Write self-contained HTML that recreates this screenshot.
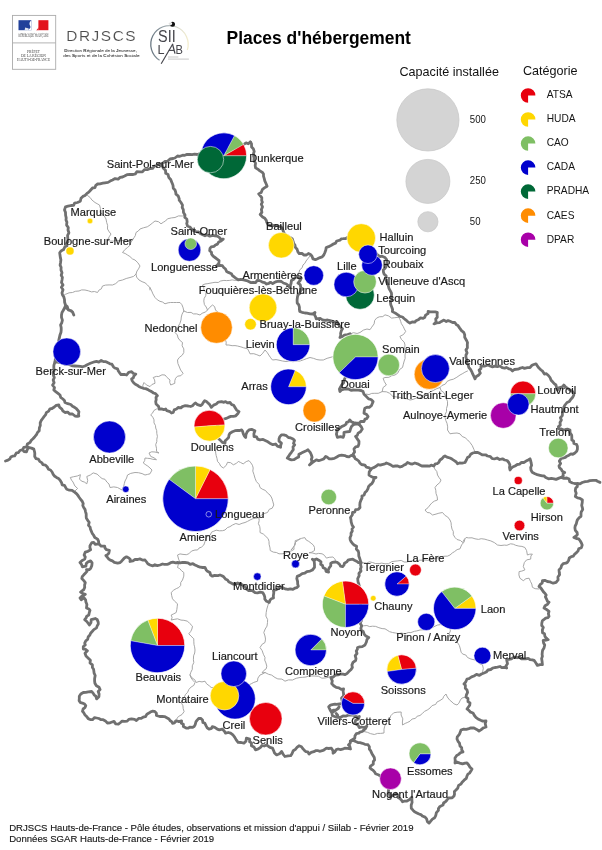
<!DOCTYPE html>
<html><head><meta charset="utf-8"><title>Places d'hébergement</title>
<style>
html,body{margin:0;padding:0;background:#fff;}
body{width:602px;height:850px;overflow:hidden;font-family:"Liberation Sans",sans-serif;}
svg{display:block;font-family:"Liberation Sans",sans-serif;}
</style></head><body>
<svg width="602" height="850" viewBox="0 0 602 850">
<rect width="602" height="850" fill="#fff"/>
<g style="will-change:transform">
<g fill="none" stroke="#a2a2a2" stroke-width=".95" stroke-linejoin="round" stroke-linecap="round">
<polyline points="87.5,195.5 90.0,197.4 92.0,200.1 95.0,202.5 97.1,203.7 99.5,205.0 100.5,208.7 100.0,212.5 102.6,214.1 104.3,216.0 106.0,219.0 106.7,222.6 107.6,225.3 107.5,229.0 109.3,232.0 111.0,234.0 109.2,236.8 107.5,240.0 110.1,241.1 113.5,241.1 116.6,240.1 120.0,241.0 123.4,240.4 126.3,239.9 129.3,240.5 132.5,240.0 131.0,242.1 130.0,245.2 127.5,247.5 124.8,249.7 122.5,252.5 125.2,253.5 127.5,255.0 129.9,256.5 132.4,258.9 135.0,260.0 137.9,262.8 140.0,266.0 138.5,268.9 137.0,271.0 136.0,274.0 136.6,277.1 139.0,280.0 142.1,281.7 145.0,282.8 147.5,285.0 149.6,287.3 150.0,290.0"/>
<polyline points="132.5,240.0 134.1,237.6 135.4,235.4 136.0,232.5 138.3,231.0 140.0,229.0 143.4,227.8 147.3,226.8 150.0,225.0 152.6,222.9 155.0,221.0 158.5,221.7 161.0,223.8 163.7,222.0 165.5,221.0 167.5,218.8 171.4,217.9 175.0,217.5 178.5,215.9 182.5,216.0 185.0,215.0"/>
<polyline points="62.5,296.0 65.3,294.4 69.1,292.8 72.5,292.5 75.3,291.3 79.0,291.0 81.7,289.9 85.0,290.0 88.4,290.8 91.5,291.9 94.4,291.5 97.5,292.5 99.2,289.9 101.3,288.9 102.5,286.0 105.5,285.1 109.1,284.9 112.5,285.0 115.7,283.6 118.7,280.9 122.5,280.0 126.2,278.5 130.0,277.5 133.6,276.4 136.0,274.0"/>
<polyline points="150.0,287.5 151.7,290.9 152.9,293.9 155.0,297.5 157.3,299.8 159.9,301.3 162.5,302.0 165.0,303.8 168.1,302.8 170.5,302.5 173.7,302.5 176.6,302.5 180.0,302.5 181.9,304.7 183.1,307.8 183.8,311.0 187.5,312.5 191.1,312.4 193.4,313.9 196.8,313.9 200.0,315.0 202.1,313.3 205.7,311.9 207.5,310.0 206.2,307.0 204.4,304.6 203.8,301.0 204.2,298.3 205.7,295.8 206.0,292.5 203.9,290.0 203.8,287.8 202.5,285.0 205.0,284.0 207.9,283.6 212.1,282.8 215.0,282.3 218.2,282.5 220.6,281.0 223.9,280.4 226.6,280.6 229.8,280.4 232.1,279.9 235.8,280.5 238.2,279.8"/>
<polyline points="183.8,311.0 182.1,314.1 181.3,317.0 181.0,320.0 179.9,323.4 178.4,326.0 177.4,329.6 175.0,332.5 177.3,334.9 178.1,338.0 180.3,340.8 182.5,342.5 182.1,345.8 183.8,348.9 183.8,352.5 182.3,355.1 179.2,357.6 177.5,360.0 177.9,363.5 179.4,367.0 180.6,370.0 183.1,373.3 180.9,375.7 177.5,376.2 175.6,378.3 174.8,380.7 174.8,383.3 170.7,385.0 169.7,382.3 170.0,380.0 167.1,377.5 165.0,375.0 162.0,374.8 158.7,376.5 156.4,376.4 153.2,377.5 154.6,379.9 155.0,383.3 151.9,384.5 150.0,386.6 146.4,384.9 144.0,382.5 142.8,385.4 143.3,388.3"/>
<polyline points="207.5,310.0 209.8,307.3 212.5,305.0 214.6,306.6 215.6,310.3 218.0,312.0 219.1,315.6 220.2,318.8 220.4,321.7 222.0,325.0 223.1,328.2 224.0,331.9 224.7,335.1 225.0,338.8 226.2,342.1 226.0,345.0 228.9,345.0 232.1,345.7 235.0,345.6 237.5,346.0 240.9,346.9 243.7,347.8 247.5,348.8 248.7,350.9 250.0,353.8 253.8,353.7 256.8,354.7 260.0,356.0 262.8,353.2 265.0,350.0 267.1,352.3 268.8,355.0 270.7,357.8 272.5,360.0 276.0,359.6 279.0,360.2 282.5,361.0 286.0,361.5 289.7,361.1 292.9,361.7 296.5,361.2 300.0,361.0 303.5,359.8 306.7,358.6 310.0,357.5 313.7,358.4 316.9,359.6 320.0,360.0 323.3,360.0 327.1,358.3 330.0,357.5 332.5,356.8 334.6,354.2 336.9,352.8 340.0,352.0"/>
<polyline points="350.0,334.0 353.4,332.7 357.1,333.5 360.0,332.5 363.4,330.1 367.0,329.0 370.0,329.7 371.7,327.2 374.1,323.9 374.7,320.4 376.6,318.1 379.3,316.8 382.8,316.6 385.0,314.8 388.5,315.9 391.6,318.1 394.8,317.7 398.2,317.3"/>
<polyline points="398.2,317.3 399.8,318.9 400.7,321.4 401.4,323.7 403.2,326.4 404.3,328.9 405.7,331.4 403.5,334.5 399.9,336.4 401.4,339.4 404.2,342.1 405.0,345.0 404.5,348.8 405.7,351.5 405.0,355.0 405.1,358.5 404.2,361.0 403.2,364.8 402.5,367.5 399.7,369.4 397.7,373.2 395.0,375.0 391.5,375.8 388.9,377.3 385.0,377.5 383.1,378.3 384.4,381.7 386.4,385.0 383.1,387.5 382.2,391.6 378.3,393.3 374.8,393.3 371.7,393.4 369.0,394.6 366.4,394.1"/>
<polyline points="382.2,391.6 386.4,391.8 389.7,393.3 393.0,396.6 396.4,396.9 400.0,397.5 403.7,398.5 406.4,398.7 410.0,400.0 413.1,399.4 416.2,398.0 420.0,398.0 421.9,395.9 424.7,394.8 427.6,394.0 430.0,392.0 433.1,390.6 436.2,388.9 440.0,387.5 441.9,385.5 445.3,384.1 447.1,381.4 450.0,380.0 453.4,379.2 456.9,377.2 460.0,375.0 462.8,373.5 464.9,372.2 467.5,371.0"/>
<polyline points="447.5,405.0 446.5,408.5 446.5,411.6 445.2,414.4 445.0,417.5 445.8,420.5 447.0,423.3 447.7,426.9 447.5,430.0 450.0,433.8 453.0,433.3 457.0,433.0 460.0,433.8 462.2,436.5 465.1,437.7 467.7,440.0 470.0,442.5 472.2,445.5 473.9,449.3 475.0,452.5"/>
<polyline points="440.0,387.5 441.0,390.5 443.9,392.6 445.0,395.0 446.1,398.1 447.5,401.3 447.5,405.0"/>
<polyline points="310.0,256.0 308.0,258.5 306.0,261.0 304.9,263.3 303.0,264.9 302.2,267.7 299.7,269.9 298.8,273.4 296.4,276.5"/>
<polyline points="75.0,491.0 77.6,488.4 74.9,486.0 73.0,482.0 71.5,480.1 70.3,477.5 73.7,476.7 77.3,476.0 80.4,474.7 79.5,479.3 82.0,481.3 84.3,482.0 86.8,483.8 87.7,480.5 86.8,476.5 90.3,475.0 93.2,472.9 97.1,474.1 99.6,476.5 102.1,478.6 105.0,479.3 106.9,482.1 109.0,484.0 110.0,487.5 113.8,486.9 117.5,487.5 120.0,488.9 122.0,490.0 123.6,486.9 124.3,483.7 125.0,481.0 126.6,478.0 127.5,475.0 130.7,473.4 135.0,472.5 138.4,472.7 142.1,473.6 145.0,475.0 147.6,474.4 150.0,473.8 152.0,470.0 150.0,468.0 147.8,466.1 145.9,464.9 143.3,463.0 144.7,460.5 145.0,458.0 147.5,458.3 150.0,458.5 152.8,459.3 156.5,459.7 154.0,457.8 150.7,456.4 149.0,453.0 151.7,451.8 155.0,452.0 159.0,453.0 156.5,451.4 156.5,448.3 155.7,444.7 156.8,441.6 156.8,439.3 157.4,436.4 156.8,433.4 156.7,430.6 155.7,428.0 155.5,425.6 154.0,422.9 154.0,419.8 152.8,417.2 150.7,414.8 152.4,413.3 153.9,410.5 156.5,409.0"/>
<polyline points="215.5,450.0 215.7,453.1 216.2,455.6 217.0,458.5 217.5,461.4 219.3,463.3 220.7,466.1 223.3,468.0 226.3,465.3 227.5,462.3 230.7,462.7 233.3,464.8 236.5,463.3 238.3,461.4 240.6,462.5 243.2,463.9 246.2,461.6 249.0,460.6 250.9,462.9 252.4,465.2 253.2,468.0 252.8,471.1 254.0,474.7 255.0,478.2 256.4,481.6 259.1,484.4 260.0,487.5 262.2,489.1 265.5,490.5 267.4,492.9 270.0,495.0 271.8,498.0 272.9,501.8 273.8,505.0 272.2,508.2 269.3,509.3 267.5,512.5 264.0,513.6 261.5,515.1 258.8,517.5 259.2,520.4 258.4,523.7 259.7,526.4 260.1,529.1 260.0,532.5 263.4,534.1 265.9,536.5 268.1,538.6 269.0,541.3 269.1,544.3 270.0,547.9 270.2,550.5 273.3,552.1 276.4,552.5 279.0,553.8 282.1,553.8 284.8,553.2 288.2,552.0 291.3,550.9 294.0,549.4 293.9,546.9 295.5,544.1 295.1,540.8 298.2,539.7 301.7,538.3 304.8,537.6 306.2,540.0 308.8,541.4 311.1,543.2 313.4,545.1 314.5,547.4 314.5,550.5 311.7,552.2 309.1,552.7 312.1,552.9 316.0,554.0 318.5,553.4 322.1,553.8 324.4,555.3 326.4,558.1 329.2,557.3 332.9,557.0 334.7,558.7 336.1,561.3"/>
<polyline points="258.8,517.5 255.5,518.3 252.9,518.7 250.0,520.0 247.5,521.4 245.0,522.5 242.1,523.3 239.1,524.5 235.8,523.5 232.5,525.0 229.9,526.7 227.4,527.6 225.0,530.0 222.5,530.7 219.4,530.8 216.2,530.2 213.8,531.2 211.6,532.1 210.0,535.4 207.5,536.2 205.6,538.9 205.0,541.6 203.8,545.0 201.5,547.1 199.0,548.1 197.5,550.0 195.0,550.0 191.6,551.0 188.8,553.8 186.3,554.7 183.0,554.4 180.0,553.9 177.5,555.0 178.6,559.1 180.0,562.5"/>
<polyline points="300.0,538.8 297.5,540.7 295.0,542.5 294.3,545.6 292.6,548.1 291.0,550.0 293.0,548.0"/>
<polyline points="433.8,466.0 434.7,468.9 436.8,471.5 437.5,475.0 439.2,477.8 441.0,480.0 439.8,482.6 436.9,485.0 435.0,487.5 435.8,490.3 436.0,493.4 437.2,496.8 437.5,500.0 434.4,501.1 432.1,502.7 430.0,505.0 428.0,507.7 425.0,510.0 427.2,512.5 429.8,512.8 432.5,515.0 436.0,514.1 438.9,513.2 442.5,512.5 445.1,515.5 447.6,516.9 450.0,520.0 451.1,522.8 451.3,525.7 452.0,529.1 453.3,531.4 453.3,534.7 455.0,537.5 457.0,539.5 460.5,540.5 462.5,542.5 464.2,539.5 466.0,537.5 468.7,537.9 472.0,537.8 475.0,538.8 478.5,539.4 481.2,538.7 484.9,539.2 487.5,540.0 490.8,540.9 494.4,542.6 497.5,545.0 501.0,545.5 504.3,545.1 506.9,545.3 510.5,543.8 513.3,544.2 515.7,545.3 518.9,546.1 521.9,546.4 524.9,547.5 526.6,550.6 527.4,555.0 529.7,554.2 532.4,554.1 530.9,556.0 530.7,559.1 526.6,559.9 524.3,562.6 523.3,566.6 524.9,569.9 521.8,571.1 519.1,571.6 518.9,574.9 519.9,578.2 523.3,580.7 525.9,578.7 529.1,578.2 530.5,581.5 531.8,584.0 532.4,587.3 535.1,588.7 539.0,589.0"/>
<polyline points="361.2,563.0 364.3,562.7 366.5,563.2 369.3,561.8 372.5,562.5 375.3,563.5 379.1,563.6 381.7,563.1 385.0,563.8 388.6,563.7 391.8,561.6 395.0,561.2 397.8,560.9 401.2,560.4 404.1,562.0 406.6,562.0 410.0,561.2 412.9,560.5 416.5,561.5 418.8,560.3 422.0,560.1 425.0,560.0 427.8,560.3 431.3,559.5 434.3,559.0 437.0,558.0 439.6,557.6 442.1,556.5 445.0,556.2 447.3,556.2 450.0,555.0 452.4,552.9 454.4,551.7 457.1,549.6 460.0,548.8 461.6,544.9 464.1,542.0 465.0,538.8"/>
<polyline points="361.2,626.2 363.7,625.8 366.9,625.5 369.6,626.6 372.5,626.2 375.6,626.4 378.9,627.7 382.1,628.6 385.0,628.8 387.1,630.1 389.6,631.7 392.5,632.5 395.5,633.0 398.4,633.6 401.7,633.1 405.0,634.0 408.2,632.5 410.9,632.6 414.4,631.3 416.8,630.9 420.0,630.0 423.3,629.8 425.9,629.4 429.3,627.6 432.5,627.5 435.0,626.2 437.7,625.0 440.6,624.6 444.2,625.6 447.0,625.0 450.0,623.8 449.3,627.1 450.4,630.9 449.2,633.7 450.0,637.5 452.5,639.4 455.2,640.3 457.5,642.5 459.3,645.4 460.4,649.1 461.2,652.5 463.0,654.2 465.8,655.0 467.5,657.5 470.9,659.0 475.0,660.0 477.5,661.2 479.7,663.8 482.5,665.0 483.3,668.4 482.5,672.5"/>
<polyline points="363.8,731.5 367.4,732.3 370.4,733.6 374.3,734.5 377.6,733.4 380.5,733.4 384.0,733.0 384.0,729.2 384.7,726.2 385.9,723.4 387.4,720.9 390.0,718.3 390.7,715.8 393.7,712.8 397.2,712.2 401.2,712.0 401.1,715.0 402.8,718.8 402.4,722.0 402.5,725.0 405.2,723.4 407.2,722.6 410.0,721.2 412.1,719.0 415.4,718.4 417.2,716.2 420.0,715.5 422.4,713.4 424.5,711.4 427.8,709.7 430.0,708.0 432.1,705.6 435.7,704.4 436.9,702.1 440.0,700.5 442.9,698.6 443.7,696.4 446.0,694.0 447.3,697.0 449.5,699.9 452.0,702.0 453.9,703.8 457.0,705.0 458.9,703.2 460.4,700.0 462.0,698.0 466.0,697.0"/>
<polyline points="180.0,562.5 178.3,564.5 177.5,567.5 179.8,568.7 181.6,570.8 183.8,572.5 183.8,576.1 182.5,580.0 180.7,582.6 180.7,585.4 178.8,587.5 176.3,588.6 173.7,590.1 171.2,592.5 171.7,595.7 172.5,598.8 174.7,601.3 177.5,603.8 177.2,606.8 176.8,609.7 176.2,612.5 173.8,613.8 171.2,615.0 172.1,617.6 171.2,620.0 174.1,619.4 177.5,618.8 181.0,620.1 183.9,620.3 187.5,621.2 189.8,623.5 192.5,626.2 191.9,629.0 190.7,631.5 188.8,633.8 190.9,636.0 193.8,638.8 193.8,641.2 194.0,644.7 194.6,646.8 195.0,650.0 194.7,653.0 193.6,655.8 193.4,659.8 193.8,662.5 192.3,665.8 192.3,669.3 190.8,672.3 190.0,675.0 190.9,677.7 193.1,680.6 195.0,682.5 193.8,685.4 191.1,687.0 188.9,689.4 187.5,692.5 185.5,694.4 184.0,697.8 182.5,700.0 181.6,703.3 182.9,705.7 183.2,708.7 184.1,711.6 182.0,714.5 178.3,716.6 176.4,719.4 174.1,720.8"/>
<polyline points="190.0,675.0 192.1,678.0 194.8,679.8 196.2,682.5 199.1,681.4 202.0,681.9 205.0,681.2 206.6,683.8 209.3,685.8 211.2,687.5 215.3,687.5 218.0,689.0 221.3,689.9 225.0,690.0 228.2,690.5 231.2,688.9 233.7,688.7 236.7,688.9 240.0,688.0 242.8,687.6 246.1,686.0 248.6,684.9 251.2,683.8 253.8,682.4 257.5,681.2 257.9,678.1 260.0,675.0 262.5,674.0 265.0,672.5 268.6,674.3 271.7,675.1 275.0,677.5 277.8,678.9 281.9,679.1 285.0,681.2 288.5,679.9 292.5,680.0 296.2,678.3 300.0,677.5 302.8,677.3 306.0,677.0 309.3,675.7 312.0,676.0 315.0,676.0 318.7,676.3 321.9,678.2 325.0,678.0 328.1,677.4 331.7,676.1 335.0,676.5"/>
<polyline points="268.8,602.5 267.8,605.7 266.8,609.1 266.2,612.5 265.9,616.1 267.6,619.5 267.5,622.5 267.0,626.1 265.2,629.0 263.8,632.5 265.0,636.0 265.5,639.1 265.0,642.5 262.2,644.2 260.0,647.5 262.2,650.7 263.4,654.3 265.0,657.5 264.7,660.1 265.9,662.9 266.8,666.2 266.2,668.8 263.6,670.7 262.0,673.0 265.0,672.5"/>
</g>
<g fill="none" stroke="#707070" stroke-width="2.8" stroke-linejoin="round" stroke-linecap="round">
<polyline points="250.3,141.9 248.3,143.8 246.1,142.9 244.2,144.2 242.0,144.7 240.7,146.4 238.0,147.0 236.4,147.9 233.5,148.4 231.1,148.2 229.5,148.5 227.2,149.4 225.0,150.0 222.6,149.7 220.3,151.2 218.2,150.0 216.1,150.5 213.7,152.1 210.5,151.6 208.8,151.8 206.4,151.9 204.0,153.0 201.5,154.1 199.4,153.8 197.5,154.5 194.5,154.2 192.1,154.6 190.0,154.5 187.1,154.4 184.8,155.3 182.7,155.2 179.9,156.3 177.5,156.0 174.9,158.0 173.2,158.5 170.0,159.0 167.5,161.2 165.0,161.5 163.5,162.6 161.9,164.2 158.7,164.2 157.0,165.5 154.3,166.2 152.6,168.4 150.0,168.5 147.3,169.7 144.4,169.6 142.4,171.9 140.0,171.8 136.8,171.7 135.5,173.8 133.2,174.5 130.0,174.5 127.0,174.7 124.6,176.0 122.5,177.0 120.1,177.4 118.1,179.2 115.1,178.6 112.5,180.0 110.2,181.1 108.0,182.4 104.9,182.8 102.8,183.2 100.0,183.8 97.6,184.0 95.8,185.3 94.9,187.7 92.5,188.0 90.5,190.2 88.8,192.1 87.0,193.4 85.0,195.5 82.9,196.4 81.0,198.3 80.3,201.3 77.5,202.5 74.6,203.2 73.6,205.4 71.0,205.5 68.0,206.2 65.5,206.8 64.5,210.0 65.5,212.4 65.6,215.3 66.2,217.9 66.0,220.0 66.9,222.1 66.6,225.1 68.3,227.5 68.0,230.0 68.9,232.8 67.6,235.3 67.7,237.3 68.0,240.0 67.9,241.9 66.6,243.4 67.0,246.0 64.9,246.7 63.6,249.6 61.0,251.0 59.7,252.8 60.0,255.0 60.4,257.9 60.9,259.9 60.5,262.8 60.1,265.2 61.1,267.3 61.0,270.0 62.0,272.8 61.2,275.3 62.4,277.4 62.0,280.0 61.5,282.6 63.0,284.9 61.4,287.3 63.0,289.8 62.0,292.9 62.5,295.0 63.8,296.9 64.5,299.7 64.6,302.2 65.5,305.0 67.2,306.5 68.2,309.8 71.4,310.8 72.7,312.4 73.8,315.0 72.7,312.2 70.9,310.9 68.2,309.6 66.7,308.2 65.5,305.5 64.8,307.5 63.2,310.5 62.0,312.5 61.5,315.0 61.5,317.4 62.4,320.1 61.8,322.8 60.6,324.9 61.2,327.8 61.2,330.0 61.0,332.2 59.9,335.3 59.4,337.6 58.8,340.1 58.9,342.4 58.8,345.0 58.6,347.6 58.5,350.0 56.5,352.4 56.4,354.4 56.2,357.1 55.3,359.4 55.0,362.0 53.9,365.1 53.8,367.5 54.3,370.2 53.0,372.4 53.5,375.5 54.3,377.6 53.2,380.0 54.1,382.8 52.6,385.1 54.5,387.5 53.8,390.0 56.0,391.9 58.0,393.4 60.0,395.0 60.7,397.3 62.9,399.0 64.4,400.4 65.0,402.5 67.8,403.7 70.8,404.5 72.5,406.2 74.0,407.0 76.0,408.3 77.5,410.0 78.9,411.7 78.5,414.2 78.8,416.0 77.1,416.3 75.0,416.0 72.5,414.0 69.6,414.0 67.7,412.1 65.0,412.5 62.8,410.8 61.9,409.1 59.5,407.2 58.8,405.0 56.2,405.4 54.3,407.0 52.0,408.5 50.0,408.8 48.7,411.1 46.3,412.6 45.7,414.6 44.2,416.4 42.5,418.8 41.1,420.7 40.2,422.9 40.3,425.5 39.4,427.7 39.2,430.8 37.5,432.5 36.5,434.6 34.8,436.7 33.0,438.7 31.3,440.2 30.0,442.5 27.3,443.9 26.8,446.9 23.8,447.3 22.8,449.5 20.0,450.5 18.3,452.7 16.5,452.8 14.6,455.9 12.5,456.2 10.8,457.0 9.8,459.1 7.3,460.4 5.5,461.0"/>
<polyline points="250.3,141.9 251.5,143.7 251.6,147.1 253.3,148.8 254.2,151.4 253.5,153.7 253.6,156.1 254.1,157.9 253.9,160.8 255.5,163.0 255.2,165.7 255.6,167.9 258.3,169.5 259.9,170.9 262.5,172.5 263.5,174.1 263.5,176.2 264.2,178.4 264.8,180.9 266.0,183.5 267.1,186.2 264.4,187.9 262.5,189.3 261.2,192.5 258.7,193.9 260.3,195.8 261.8,197.7 261.7,200.4 262.4,202.2 261.3,204.2 262.5,206.9 261.4,209.5 261.9,212.4 260.2,214.5 262.6,217.0 264.8,218.3 266.4,220.6 266.8,222.4 267.9,224.4 269.4,225.5 272.3,225.6 274.8,225.3 276.6,225.7 279.0,226.4 280.9,226.7 282.4,228.4 283.1,230.8 283.9,232.9 285.4,234.9 287.6,236.4 290.0,237.3 292.3,239.0 293.2,241.6 293.7,243.6 294.9,245.0 295.4,247.4 297.1,249.3 297.9,251.9 299.2,253.5 302.0,253.4 303.8,255.0 306.4,255.0 308.4,253.5 310.5,254.5 312.0,256.2 313.0,258.9 315.4,259.7 317.5,258.8 320.0,257.6 322.2,256.9 323.8,255.0 324.9,252.5 325.8,250.0 326.2,247.5 328.6,246.7 331.4,245.3 333.8,243.8 335.6,243.2 336.7,241.0 340.1,240.2 341.2,238.8 343.3,238.7 345.8,238.5 347.5,237.5 349.7,238.1 352.5,238.1 355.0,238.6 357.9,239.9 360.0,240.0 362.4,240.8 363.7,241.9 364.8,244.8 366.3,246.4 369.1,246.3 370.5,249.0 372.0,250.0 373.3,252.4 375.8,252.9 377.6,255.0 380.0,256.6 382.1,256.2 385.0,257.5 386.6,259.6 387.0,262.2 386.6,264.1 386.1,266.8 385.3,267.9 383.3,269.9 383.4,271.8 384.0,273.9 386.2,276.1 385.8,278.2 386.3,281.2 386.9,282.9 388.3,285.7 388.9,288.3 390.2,290.7 391.4,292.9 391.6,294.9 391.0,296.8 392.2,300.1 390.4,301.8 390.8,304.8 391.8,307.2 392.6,309.5 392.4,311.5 393.9,312.4 396.4,313.8 398.3,315.2 399.9,316.4 402.5,317.0 404.0,318.5 405.7,319.8 407.6,321.6 409.9,323.1 412.2,321.9 414.7,322.2 416.0,320.8 418.2,319.8 420.5,317.9 423.1,318.4 424.8,317.3 425.6,315.1 428.0,313.6 428.1,311.5 430.2,311.9 433.1,311.8 435.2,311.9 437.3,312.3 437.1,315.2 437.3,317.3 435.7,319.0 436.1,321.9 434.0,323.9 436.5,322.9 439.5,322.7 441.4,321.4 443.9,320.1 446.3,321.5 448.1,320.6 450.0,321.3 452.6,322.5 454.7,322.3 456.4,324.8 458.0,325.6 459.7,328.1 461.5,330.6 463.7,332.3 464.7,334.7 464.7,337.3 466.4,340.2 467.5,342.5 467.3,344.7 467.4,347.8 466.0,349.9 467.1,352.9 466.0,355.0 465.9,357.3 467.0,360.4 466.9,362.7 468.3,365.1 468.8,367.5 470.4,369.2 471.9,371.9 472.8,374.2 473.9,376.4 475.0,378.8 476.0,376.7 478.8,375.0 480.3,373.1 479.1,370.2 480.9,368.7 481.0,366.0 483.1,366.2 485.0,366.0 488.3,365.0 490.0,366.0 492.5,366.8 494.7,366.1 497.4,366.6 500.0,366.0 502.2,367.7 504.6,368.2 506.3,367.4 508.8,368.8 510.7,369.2 512.5,371.0 514.3,369.5 517.9,369.2 520.4,368.1 522.5,367.5 524.5,368.4 527.4,367.7 530.0,367.5 532.0,365.3 533.8,364.5 536.0,363.8 537.7,366.4 539.0,368.1 541.0,370.0 542.6,371.2 544.4,374.1 546.4,373.7 548.4,375.5 550.0,377.5 551.1,380.2 552.1,381.3 554.2,383.7 556.0,385.0 556.6,388.1 557.5,390.0 558.7,387.8 562.4,386.8 563.8,385.0 565.4,386.8 568.0,388.7 570.0,390.0 572.3,391.2 573.8,393.8 573.7,395.4 572.5,397.5 570.9,399.2 569.4,401.4 567.0,402.5 565.0,405.0 563.8,407.1 564.1,410.7 562.5,412.5 562.3,415.6 560.4,417.7 561.4,420.1 560.0,422.5 560.3,425.2 558.4,426.7 558.8,428.8 560.8,428.9 563.2,429.9 565.1,429.7 567.4,429.1 570.0,430.0 570.0,432.6 571.7,435.3 571.8,437.3 571.8,440.0 573.6,440.9 573.9,443.5 576.5,444.3 577.4,446.4 577.4,449.3 576.7,451.3 574.6,453.2 572.8,454.3 570.9,453.8 569.0,455.2 566.8,456.2 565.4,457.3 562.7,458.1 561.2,458.4 559.3,461.1 560.6,463.5 559.0,466.0 559.5,467.8 561.3,469.4 562.2,471.2 564.7,472.5 563.1,473.6 563.3,475.8 561.2,477.4 564.0,478.4 566.8,478.0 569.1,479.1 569.8,481.8 572.5,483.0 574.6,483.5 577.4,483.8 577.3,486.6 575.7,488.0 575.3,490.8 576.2,493.2 575.3,496.5 577.6,497.9 580.0,498.3 582.4,500.0 582.2,502.8 581.7,505.3 582.4,507.8 582.7,509.6 581.2,511.9 581.0,513.6 581.0,516.3 579.2,517.7 577.3,520.0 576.7,522.0 576.4,523.6 575.2,526.0 574.9,527.9 575.3,530.4 577.1,532.5 577.4,534.6 576.1,536.0 573.9,537.5 576.3,538.5 578.7,538.9 580.3,541.0 581.4,543.0 582.2,545.0 581.4,547.6 578.7,548.8 578.1,550.8 576.5,552.7 574.7,554.1 573.4,556.1 571.4,556.6 569.3,558.0 568.6,560.5 567.3,562.4 565.8,563.2 563.2,563.6 561.5,565.7 561.0,567.8 559.0,569.9 559.3,572.8 559.6,574.6 557.9,577.0 558.1,579.9 556.1,582.4 553.2,583.2 551.3,582.5 549.8,581.8 547.3,581.5 544.8,580.3 542.4,580.7 542.3,582.8 540.1,584.6 539.0,586.5 540.6,587.6 541.8,589.4 543.5,591.9 544.9,593.2 546.2,595.0 545.4,596.9 546.5,599.0 547.5,601.4 549.0,602.3 547.6,604.3 545.1,605.7 544.0,608.1 547.0,609.8 549.0,611.4 548.4,613.7 549.0,616.4 547.8,617.7 545.7,618.1 543.7,619.8 542.4,620.6 541.8,623.3 541.7,625.5 543.3,627.4 542.4,629.7 542.5,632.7 544.5,633.8 544.9,636.3 546.3,638.1 548.2,639.7 546.1,640.0 543.2,640.5 543.6,643.0 544.7,645.0 544.0,648.0 542.6,650.2 542.3,652.1 542.1,654.5 542.4,656.3 541.6,658.6 542.1,661.6 542.4,664.6 540.1,664.6 537.4,665.4 535.6,662.5 534.1,660.4 532.3,659.8 530.0,659.6 528.2,658.3 525.7,658.8 523.3,658.8 521.2,658.8 519.4,656.8 517.1,657.8 515.0,657.0 513.2,657.5 511.4,658.9 508.9,659.3 506.6,659.5 507.0,661.4 507.5,663.8 505.9,666.0 506.6,668.0 504.3,667.3 501.8,667.6 500.0,666.5 497.5,667.1 495.0,667.5 492.6,668.1 490.7,669.5 488.0,670.0 486.3,672.0 484.0,673.0 481.5,674.0 479.4,675.4 476.5,674.4 474.0,676.0 471.6,676.9 469.0,678.6 467.0,679.0 465.7,682.0 464.0,684.0 465.4,685.3 465.3,688.3 467.0,690.0 467.6,692.3 466.4,694.9 466.0,697.0 467.9,698.3 468.0,701.7 470.0,703.0 469.7,705.2 468.2,707.3 467.0,709.0 469.2,710.7 470.6,712.2 473.0,713.0 474.4,715.5 475.9,717.3 478.0,719.0 480.7,720.3 482.7,721.1 486.0,721.0 485.2,723.5 486.0,727.0 483.3,727.9 480.9,729.9 479.0,731.0 476.7,729.4 474.0,728.0 470.9,727.9 468.9,728.6 466.3,729.3 463.7,729.1 461.0,730.0 460.2,732.4 459.3,734.4 457.3,736.8 457.0,739.0 458.0,741.3 459.5,743.2 460.0,746.0 461.7,747.7 461.7,749.7 463.0,752.0 460.6,752.7 458.3,754.6 456.7,755.5 455.0,758.0 455.2,760.9 455.0,763.0 456.9,762.0 459.8,763.1 462.5,763.9 465.1,763.1 467.0,763.0 468.7,765.0 470.0,767.2 472.0,769.0 470.9,771.0 469.5,773.1 467.9,774.1 467.0,776.0 466.3,778.4 464.1,780.2 462.1,782.2 461.0,784.0 458.6,785.4 457.7,788.2 456.0,790.0 454.4,791.5 454.5,794.3 454.0,796.0 452.2,797.8 448.5,798.0 447.0,800.0 445.9,801.3 443.6,803.0 443.0,805.0 440.0,806.4 438.4,808.6 438.4,810.4 436.4,812.6 435.7,815.7 434.7,817.7 432.4,819.1 430.7,821.1 429.1,823.1 427.4,821.7 426.6,818.9 425.1,817.1 422.3,816.0 421.3,814.9 418.5,813.8 416.4,812.7 414.6,811.8 413.2,810.4 411.3,808.3 411.2,805.1 412.1,802.4 411.9,800.1 411.8,797.1 410.5,798.5 409.2,799.8 407.0,801.0 404.2,801.2 402.5,801.8 401.4,800.1 399.9,798.5 398.1,797.5 397.9,795.0 395.9,793.2 394.6,795.0 391.6,795.9 389.9,797.1 389.6,794.3 388.2,792.9 388.6,789.8 388.3,787.3 387.3,784.9 385.3,782.9 385.0,780.0 382.5,779.0 381.9,777.2 380.0,775.9 378.2,774.7 375.5,773.7 374.6,771.9 372.8,770.1 371.4,769.2 370.0,767.9 370.5,766.1 373.3,764.1 373.3,761.4 374.6,760.0 374.3,757.6 372.6,754.8 371.4,752.5 370.6,750.6 369.3,749.0 369.4,746.7 368.0,744.7 364.9,744.3 362.4,743.3 360.0,742.7 357.9,742.6 355.7,741.6 353.3,740.4 350.4,741.2"/>
<polyline points="577.4,483.5 580.0,483.9 582.2,482.5 585.2,481.7 587.7,481.3 589.9,480.6 593.0,480.3 595.9,480.3 597.5,481.3 600.0,482.4"/>
<polyline points="350.4,741.2 350.1,743.2 348.5,745.0 349.8,746.3 350.5,749.0 347.8,748.3 344.7,748.2 342.4,749.2 340.6,749.6 338.1,749.0 336.3,749.6 334.6,752.1 333.1,753.2 333.0,750.8 331.4,748.2 328.7,748.5 326.4,748.2 324.1,749.9 322.3,750.7 319.6,751.3 318.1,750.7 315.6,750.7 313.8,751.7 311.2,752.4 309.0,754.0 307.8,751.9 305.7,751.6 304.0,749.9 302.7,748.5 301.5,746.8 299.0,745.7 297.0,747.4 295.2,749.6 293.2,750.7 292.1,753.5 290.7,755.7 288.0,755.9 284.9,756.5 283.3,754.5 281.6,751.5 280.0,753.4 278.3,754.2 276.6,754.9 274.5,753.0 273.6,750.6 272.5,748.2 270.7,747.7 268.6,746.5 266.6,744.9 264.2,746.0 262.0,745.5 260.5,747.3 258.3,748.9 255.5,749.8 253.9,746.9 251.4,745.7 251.5,742.9 249.6,741.7 249.7,739.0 246.4,738.2 245.9,741.3 243.9,743.2 241.2,742.5 238.1,742.4 236.2,739.9 234.8,737.4 233.2,735.2 230.6,733.2 228.3,732.5 225.6,733.2 224.4,731.2 222.3,729.1 219.4,729.9 217.3,729.1 214.8,727.3 212.3,726.6 211.6,728.3 209.0,729.1 207.2,727.8 206.0,725.6 204.9,723.3 202.9,722.4 202.5,720.0 200.7,718.3 198.7,718.5 197.4,719.9 196.0,721.7 195.2,724.6 194.1,726.6 192.8,727.3 189.8,727.1 188.3,728.2 186.1,728.0 183.3,726.6 183.4,724.3 181.3,723.3 181.6,720.8 178.8,721.6 176.6,720.8 174.5,722.8 172.5,723.3 171.9,721.9 170.0,720.5 169.0,719.0 167.2,718.0 164.5,716.6 162.2,716.4 159.7,716.5 156.4,715.5 156.4,713.2 154.7,711.4 152.3,711.2 150.4,712.1 148.9,713.1 146.9,714.2 145.4,716.7 143.1,717.2 140.9,718.4 138.6,718.4 136.4,720.5 134.6,719.3 131.5,718.9 128.8,719.4 127.2,721.1 124.8,721.4 122.1,721.1 120.5,722.5 118.4,724.1 115.7,723.9 114.0,721.4 112.1,722.0 110.1,722.8 107.4,723.0 105.4,720.9 103.2,719.7 101.1,719.7 98.9,718.5 96.6,718.0 94.6,717.6 92.5,719.7 90.8,719.7 88.2,718.6 86.6,716.4 84.8,714.7 83.8,712.8 82.5,711.4 83.1,709.0 84.9,707.7 85.8,705.6 84.2,703.7 82.5,703.1 80.5,702.6 79.1,700.6 79.3,698.6 79.3,696.2 80.8,694.0 83.3,692.5 85.8,692.3 88.3,691.8 91.6,691.5 93.1,693.1 94.1,694.8 95.8,696.1 96.6,698.9 98.9,696.7 99.1,694.0 98.2,691.5 100.1,689.5 99.1,687.3 96.4,685.8 94.9,683.2 94.6,681.0 94.6,678.7 95.2,675.5 94.1,673.2 93.8,670.6 93.6,669.2 92.4,667.5 92.4,664.9 90.0,662.9 90.4,660.2 88.3,658.2 86.0,656.0 85.0,653.3 87.4,650.8 85.2,649.1 83.3,649.1 83.3,646.5 85.3,644.9 84.7,643.1 85.8,640.8 87.6,639.4 88.3,636.7 89.9,635.0 90.6,633.2 92.6,631.0 93.8,629.6 96.5,627.9 97.2,625.9 98.3,624.0 98.2,622.1 97.1,619.4 95.3,618.5 93.3,619.1 91.2,619.7 91.0,622.4 89.4,625.0 88.3,623.5 86.8,621.5 84.7,619.7 86.3,617.7 86.5,616.4 88.8,615.0 89.2,612.9 90.0,610.3 88.9,609.0 86.5,607.9 86.9,604.6 85.9,602.1 85.6,599.8 84.1,597.9 81.2,599.7 80.0,597.9 81.7,596.3 83.5,595.6 85.3,594.4 82.9,593.6 80.6,592.1 82.5,590.5 83.7,589.8 84.7,587.4 84.6,585.0 85.3,582.6 83.8,580.6 81.8,578.5 82.2,576.7 83.8,574.8 85.3,573.2 87.0,571.4 86.5,569.7 89.2,569.7 90.6,568.5 91.8,565.6 92.1,562.9 90.6,560.9 87.6,562.1 86.3,563.5 85.9,566.2 82.4,566.8 81.5,564.4 80.0,562.6 82.2,560.5 84.7,559.1 85.3,556.9 84.1,555.0 85.3,552.1 87.9,551.3 90.6,549.7 89.9,547.3 90.0,545.6 91.8,542.6 93.7,542.5 95.3,544.4 98.8,543.8 98.6,541.4 97.6,539.1 94.8,537.5 93.5,535.0 92.2,533.3 91.4,531.4 90.5,529.2 90.1,527.1 88.5,525.4 89.2,522.3 87.7,520.4 86.3,518.0 86.2,516.5 86.2,514.0 85.5,511.6 85.0,509.4 83.7,507.5 82.8,505.5 83.2,503.6 82.2,501.2 80.9,499.8 79.1,497.3 78.0,495.5 76.7,493.9 74.9,492.4 72.1,490.4 69.4,490.2 66.8,489.3 65.9,487.9 64.4,485.3 62.1,484.8 61.6,482.7 60.4,480.7 58.5,478.4 56.5,477.4 54.4,476.0 53.2,474.4 52.1,472.0 50.5,470.0 48.4,469.2 47.3,467.0 45.5,465.1 42.9,464.7 42.0,462.8 39.7,461.3 38.3,459.1 36.1,458.7 34.7,456.4 34.8,453.4 34.6,452.0 33.8,449.1 31.5,448.1 28.3,447.3 27.2,449.9 26.5,451.9 23.9,451.5 22.8,450.0"/>
<polyline points="162.5,166.0 163.3,168.2 165.5,170.2 165.7,173.3 168.0,174.4 168.8,177.5 170.7,179.5 171.4,181.4 172.4,183.7 173.0,185.4 173.3,188.3 175.0,190.0 175.8,192.5 175.9,194.1 178.1,195.8 179.2,198.7 179.2,200.2 181.0,202.5 182.5,205.1 182.2,207.5 183.3,209.6 183.5,212.6 185.0,215.0 184.8,217.5 186.8,219.0 187.2,221.9 186.7,223.4 187.5,226.0 189.9,227.0 191.8,229.3 193.8,231.0 196.0,231.7 198.7,232.0 200.2,233.4 203.3,235.0 205.0,235.8 207.1,234.8 209.8,236.2 212.5,235.3 215.0,235.8 217.3,236.2 219.6,237.7 220.4,239.1 223.3,239.1 221.1,240.9 218.7,242.0 217.5,244.1 215.4,245.0 214.1,246.3 211.2,246.9 210.0,248.3 209.7,250.7 211.5,252.3 211.6,254.1 213.1,256.1 215.0,257.5 217.1,259.1 219.1,260.7 218.8,263.5 216.6,265.7 220.0,265.3 222.4,265.7 223.7,267.5 225.5,269.0 226.6,271.5 228.4,272.4 231.4,273.7 232.4,275.7 234.3,277.0 236.0,278.4 238.2,279.8 240.6,279.3 243.6,279.9 246.5,280.6 248.7,281.6 250.6,282.6 253.2,282.3 255.7,282.6 257.1,280.4 259.8,280.6 262.4,282.1 264.7,282.7 266.5,284.0 268.9,283.3 270.5,282.3 272.7,283.6 274.8,282.3 276.4,281.6 278.9,281.1 281.4,281.5 283.4,283.0 286.4,284.0 288.0,285.3 289.7,287.3 290.6,284.7 291.1,283.2 291.4,280.6 293.8,279.3 294.5,278.3 296.4,276.5 299.0,278.1 301.3,278.2 300.1,280.5 298.0,283.1 300.2,284.6 300.8,287.6 303.0,288.9 300.9,290.1 299.8,293.3 298.0,294.8 297.4,297.4 297.1,300.1 297.2,303.0 298.7,304.7 299.4,307.1 299.4,309.2 299.7,311.4 302.0,312.3 305.0,313.0 307.0,313.2 310.0,313.8 312.8,314.0 315.0,312.5 314.3,314.3 315.6,316.9 316.2,318.8 318.1,318.6 320.5,318.5 322.5,320.0 325.1,320.4 327.5,320.0 330.1,320.7 332.6,321.4 334.8,322.0 337.5,322.5 338.6,324.7 340.7,327.2 342.5,328.8 341.4,330.6 340.6,333.4 340.8,335.1 340.0,337.5 343.0,336.4 344.2,335.1 347.6,334.6 350.0,333.8 351.1,336.1 352.4,338.3 355.0,340.0 354.0,341.7 354.9,344.3 354.2,346.9 352.7,348.5 351.4,350.8 352.5,353.2 350.5,355.9 351.4,357.5 350.0,360.0 348.9,361.8 347.8,364.2 347.9,366.5 346.9,368.8 347.1,371.8 347.0,374.0 346.5,376.1 345.0,378.0 343.9,380.6 343.6,382.8 341.7,384.9 340.7,386.6 339.4,389.1 339.9,391.6 341.4,390.0 344.0,389.1 346.3,388.8 348.3,389.0 351.0,390.3 353.2,390.0 356.3,390.1 358.3,390.2 361.1,390.5 363.1,391.6 364.0,394.3 366.4,396.6 368.6,398.9 371.0,399.5 373.1,401.6 372.1,404.0 371.4,405.7 369.3,407.3 367.0,407.2 364.8,408.2 364.2,411.1 364.0,413.2 366.7,414.6 368.1,416.5 366.8,418.6 365.0,419.1 364.0,421.5 360.8,421.4 359.6,422.9 356.5,423.2 353.5,422.6 351.2,421.7 349.8,419.9 348.4,421.8 346.5,422.3 346.1,424.2 344.0,425.7 342.0,426.3 339.4,428.4 337.4,429.0 336.9,432.2 336.4,434.0 337.4,437.3 340.6,436.7 343.2,437.3 343.9,435.3 344.0,432.3 346.6,431.9 349.8,431.5 350.4,429.3 351.5,426.5 353.6,424.5 355.7,424.2 357.5,423.8 359.7,425.0 361.2,426.7 362.3,429.0 360.5,431.7 358.1,433.1 357.3,435.4 355.6,436.5 357.1,438.6 359.0,441.4 358.9,444.0 358.1,446.4 355.7,446.8 354.0,448.9 354.6,451.9 353.2,454.1 354.0,456.4"/>
<polyline points="55.0,362.0 57.3,362.0 59.7,362.4 62.7,362.6 65.0,364.0 67.6,364.3 69.6,364.6 72.6,365.9 75.0,366.0 77.6,366.1 80.5,366.4 82.7,366.8 85.0,366.0 87.2,364.7 90.4,363.3 92.5,362.5 94.5,361.8 96.5,361.4 98.8,362.1 101.2,360.5 103.8,361.7 105.9,361.7 107.6,362.6 110.0,363.8 111.9,364.2 113.6,367.0 114.8,368.0 117.5,368.8 118.2,370.7 119.6,372.8 121.0,374.5 124.3,374.4 126.6,375.0 128.7,372.3 131.6,371.7 133.4,373.5 135.8,374.0 133.9,375.9 133.3,377.8 131.6,379.0 132.2,380.8 133.4,382.5 135.0,384.0 137.2,385.2 138.8,386.4 141.1,387.5 143.3,388.3 145.7,388.6 148.0,389.6 149.8,390.8 151.6,391.6 153.5,393.0 155.5,393.6 157.4,395.7 156.0,397.4 156.2,399.6 155.7,401.6 156.1,404.1 158.7,406.6 159.0,409.0 161.4,408.9 163.9,409.7 165.7,409.0 166.8,410.7 170.0,411.7 171.5,413.0 173.3,412.4 174.2,409.9 176.5,409.0 178.1,407.5 180.9,407.9 182.3,406.6 184.8,405.7 188.2,406.0 190.6,406.5 192.5,405.7 194.2,403.9 195.6,403.0 197.5,404.7 200.6,405.7 202.2,404.4 203.2,402.6 204.7,400.7 206.4,401.5 208.0,403.0 209.6,404.6 211.4,407.4 213.6,405.1 216.3,404.0 218.3,402.1 221.6,401.6 223.4,402.3 225.6,401.7 227.4,402.9 230.0,402.5 231.7,404.6 233.7,405.3 235.0,407.5 236.6,410.1 239.0,411.6 237.9,413.5 235.8,415.8 233.5,416.4 230.9,416.4 228.3,417.4 226.1,418.4 224.1,419.0 222.2,419.9 221.2,422.2 219.1,422.6 218.0,425.0 216.6,427.2 217.4,429.6 217.2,431.2 215.9,433.6 216.0,436.0 218.0,438.0 220.0,439.9 222.3,442.4 225.0,443.2 225.2,440.7 226.9,439.2 228.6,437.6 229.1,434.8 230.0,433.2 232.4,431.8 235.0,430.7 237.5,430.4 239.7,430.5 241.6,429.9 242.6,431.3 243.3,433.9 244.3,436.0 245.7,437.4 245.9,434.8 247.2,431.7 249.0,429.9 251.6,429.4 254.9,430.7 253.9,433.6 254.0,436.5 256.6,436.9 257.7,439.1 259.9,439.9 263.1,439.4 265.7,440.7 267.9,441.8 269.8,443.2 272.9,444.7 275.6,444.0 277.4,446.1 280.6,447.3 280.7,445.2 281.4,443.2 279.0,441.2 279.0,439.0 279.7,436.9 281.4,434.9 283.7,434.9 286.4,435.7 288.4,437.5 290.8,437.9 293.1,439.0 294.5,440.5 293.5,443.4 294.7,444.8 293.0,446.8 293.3,449.6 291.4,452.3 290.0,454.1 288.7,456.2 287.3,458.1 289.2,459.1 291.4,459.8 293.8,459.7 296.4,458.1 298.7,457.0 298.9,454.2 301.4,453.1 303.5,452.1 305.7,451.1 308.0,449.8 310.2,452.3 311.3,454.8 312.1,457.2 311.3,459.4 312.2,461.4 310.7,463.6 309.5,465.0 312.0,462.9 314.1,461.4 316.3,459.9 318.7,460.7 321.6,459.7 323.8,458.9 325.7,456.4 327.3,457.3 329.3,458.9 331.6,458.9 334.3,458.4 336.8,457.0 339.0,455.6 341.6,455.2 344.8,455.6 346.7,456.5 349.0,456.8 351.3,455.3 354.0,456.4"/>
<polyline points="354.0,456.4 355.3,458.8 357.1,459.7 359.0,461.3 359.8,463.0 361.5,464.5 364.9,465.1 366.4,467.2 369.3,467.8 370.6,469.7 372.0,468.2 374.3,467.4 376.0,466.3 378.1,464.7 380.2,465.2 382.0,464.6 384.9,463.9 386.4,463.0 388.3,463.7 391.0,465.1 393.0,466.4 395.4,466.0 397.7,465.9 400.0,467.0 402.1,466.3 403.6,465.3 405.6,464.4 407.5,462.5 410.4,463.8 412.4,464.0 414.9,463.0 417.5,463.8 419.8,465.0 421.8,466.0 425.0,466.0 427.6,466.0 429.4,466.2 431.2,465.1 433.8,466.0 435.3,463.9 437.2,463.7 438.7,462.5 440.0,460.0 442.2,458.5 443.5,456.8 445.0,456.0 446.9,457.1 450.0,458.0 452.0,459.1 454.3,460.6 456.3,462.0 457.5,463.8 459.5,463.0 462.1,463.1 465.0,462.5 466.5,459.8 467.5,457.5 469.5,456.4 470.7,454.2 472.8,453.0 475.0,452.5 477.8,452.5 480.0,453.6 482.1,454.8 485.6,454.8 487.5,456.0 490.5,456.7 492.2,458.6 495.0,458.8 497.1,458.0 499.6,459.5 502.5,458.8 504.6,460.0 507.1,460.5 508.8,462.5 509.9,464.9 509.5,467.4 510.0,470.0 511.2,468.2 512.6,467.1 515.0,466.0 517.3,464.5 519.8,464.1 521.6,462.3 523.8,462.5 526.1,461.1 528.2,460.0 530.0,458.8 530.8,461.2 531.1,462.9 531.6,465.3 530.7,467.5 531.0,470.0 532.1,472.2 535.0,473.8 537.2,474.6 540.0,475.3 542.4,475.9 544.2,476.0 545.7,477.5 548.5,478.8 551.4,478.3 554.0,478.8 556.1,479.4 559.0,478.1 561.2,477.4"/>
<polyline points="370.6,469.7 369.2,472.0 369.0,475.0 371.1,476.4 372.9,477.3 376.0,477.5 373.8,478.7 373.4,481.0 371.8,483.7 370.0,485.0 368.6,486.4 368.0,488.6 366.9,490.7 365.0,492.5 364.1,495.0 361.9,496.0 362.0,498.1 361.0,500.0 360.0,502.8 359.8,505.1 360.0,507.5 358.4,509.3 355.6,509.6 354.7,512.1 352.5,512.5 352.4,514.7 350.5,517.5 351.0,520.0 351.2,522.1 352.2,525.3 353.5,527.0 352.0,529.0 352.3,531.0 351.0,533.3 351.1,535.2 350.0,537.7 350.2,539.7 351.1,541.7 352.7,543.7 354.0,544.9 356.6,546.2 356.3,549.1 358.3,551.3 358.7,553.0 358.8,555.9 359.5,557.8 360.4,560.6 361.0,562.4 360.6,564.8 361.2,567.0 360.4,569.0 361.0,571.0 358.9,573.5 359.2,575.7 357.7,578.6 358.0,581.7 358.8,584.0 359.3,586.4 358.5,588.9 360.4,590.8 360.5,592.7 359.0,595.4 359.6,597.7 360.0,600.0 360.4,602.0 360.5,605.0 360.0,606.7 361.2,609.0 360.1,611.5 360.3,614.2 361.5,616.3 361.7,618.8 361.5,620.5 360.0,623.0 361.7,625.8 360.9,628.1 361.2,630.0 363.3,631.7 364.3,634.4 365.9,636.1 368.8,637.5 367.0,639.4 366.4,642.0 365.0,645.0 362.3,646.6 359.7,646.9 357.5,647.5 357.4,649.3 356.3,651.0 357.0,653.5 355.2,655.7 356.0,658.6 355.6,660.5 353.0,662.4 351.9,665.0 352.4,667.5 351.1,669.4 348.8,671.6 347.2,673.3 345.1,674.7 343.0,674.1 340.6,673.9 338.0,674.9 335.4,675.0 333.0,677.2 330.9,677.7 332.3,680.9 331.7,683.6 333.7,685.8 336.2,687.4 338.9,687.8 341.2,689.3 343.6,688.9 343.1,691.0 343.6,694.1 343.5,695.8 341.5,698.2 342.0,700.0 342.4,702.1 341.4,703.8 339.6,703.8 336.7,704.4 334.9,704.1 332.4,704.6 330.5,705.1 328.7,706.8 329.7,709.0 330.9,711.3 334.0,711.5 336.2,709.8 338.2,708.6 339.1,706.8 337.5,708.8 336.2,709.8 333.2,710.2 330.9,711.3 332.0,713.1 332.4,715.8 335.3,716.8 337.7,717.3 337.6,715.3 336.2,713.5 337.7,715.1 337.7,717.3 340.2,717.5 343.0,716.0 345.7,716.1 348.9,715.0 351.1,714.9 354.0,715.3 357.0,717.2 359.3,716.5 358.5,718.9 355.7,720.2 354.8,723.2 356.5,724.4 358.2,725.4 359.3,727.7 361.6,727.0 364.3,727.7 366.8,726.2 365.5,728.7 363.7,730.1 362.3,731.5 359.9,732.1 358.8,733.2 356.3,733.7 355.0,735.7 354.8,738.2 352.4,739.7 350.4,741.2"/>
<polyline points="98.8,543.8 101.2,546.2 104.7,546.2 105.0,548.0 106.5,549.7 109.4,550.3 108.8,553.2 107.2,554.9 105.9,555.6 107.2,557.2 108.8,559.1 110.3,560.1 112.4,560.9 114.3,562.4 117.6,563.2 120.1,562.6 121.8,560.9 123.5,559.0 124.4,558.0 126.5,556.8 128.8,557.9 130.3,559.5 130.0,561.5 132.9,560.9 135.0,559.5 137.8,559.5 139.8,558.9 143.0,560.2 145.0,560.0 146.6,562.0 147.8,563.7 150.0,565.0 152.8,565.9 154.9,564.7 157.3,565.6 160.0,565.0 162.5,564.0 164.4,564.4 167.0,564.4 168.8,563.8 170.7,562.7 172.9,562.2 175.7,562.8 177.5,562.5 180.1,562.9 182.6,562.3 185.0,562.5 188.0,562.8 190.2,564.4 192.9,563.7 195.0,565.0 197.4,566.1 200.2,567.2 202.7,567.5 205.0,567.5 206.2,569.9 207.5,571.2 209.9,572.5 210.6,575.0 212.5,576.2 214.5,575.4 217.9,575.6 220.0,575.0 221.9,575.7 223.7,576.8 225.8,579.3 227.5,580.0 228.7,581.7 230.2,582.6 232.5,583.8 234.8,584.5 237.7,582.9 240.0,584.0 242.4,584.9 244.8,586.5 246.6,589.2 248.6,590.5 251.4,590.4 252.9,591.0 255.1,592.6 257.5,592.9 260.2,592.2 262.7,592.6 264.1,594.9 264.8,597.1 264.8,599.1 266.6,601.3 269.2,602.4 270.1,600.0 271.4,598.8 273.5,598.0 273.3,596.0 273.8,592.8 273.5,590.5 275.6,589.9 277.9,588.8 280.1,587.4 282.1,587.2 284.4,588.7 286.1,589.0 287.9,589.4 290.4,588.8 292.9,589.4 294.8,588.2 296.7,587.7 298.3,586.2 297.7,584.1 297.6,581.5 296.8,578.7 297.2,576.4 299.7,575.4 302.2,573.6 304.8,573.2 306.9,571.6 310.1,571.1 312.4,570.0 314.5,567.4 314.5,564.6 314.2,561.1 312.4,559.2 314.7,560.0 316.5,558.9 318.8,560.2 321.0,561.9 320.7,564.4 322.5,565.5 323.2,567.8 325.5,568.8 326.0,571.3 328.6,572.1 328.1,570.1 329.5,567.3 330.8,565.8 330.7,563.5 332.3,562.4 335.2,562.0 337.2,562.4 339.4,564.1 340.5,566.1 342.6,566.7 344.1,564.8 344.4,563.3 346.8,561.9 348.0,560.2 349.9,559.6 352.8,559.2 354.5,560.2 357.0,561.5 358.4,562.6 361.0,562.4"/>
</g>
<g>
<path d="M195.5,498.75L228.30,498.75A32.8,32.8 0 0 0 210.14,469.40Z" fill="#e8000e" stroke="#fff" stroke-opacity=".55" stroke-width=".6"/><path d="M195.5,498.75L210.14,469.40A32.8,32.8 0 0 0 195.50,465.95Z" fill="#ffd700" stroke="#fff" stroke-opacity=".55" stroke-width=".6"/><path d="M195.5,498.75L195.50,465.95A32.8,32.8 0 0 0 169.07,479.33Z" fill="#7fbf64" stroke="#fff" stroke-opacity=".55" stroke-width=".6"/><path d="M195.5,498.75L169.07,479.33A32.8,32.8 0 1 0 228.30,498.75Z" fill="#0000cd" stroke="#fff" stroke-opacity=".55" stroke-width=".6"/><circle cx="195.5" cy="498.75" r="32.8" fill="none" stroke="#fff" stroke-opacity=".65" stroke-width=".8"/>
<path d="M157.5,645.5L184.80,645.50A27.3,27.3 0 0 0 157.50,618.20Z" fill="#e8000e" stroke="#fff" stroke-opacity=".55" stroke-width=".6"/><path d="M157.5,645.5L157.50,618.20A27.3,27.3 0 0 0 147.72,620.01Z" fill="#ffd700" stroke="#fff" stroke-opacity=".55" stroke-width=".6"/><path d="M157.5,645.5L147.72,620.01A27.3,27.3 0 0 0 130.61,640.76Z" fill="#7fbf64" stroke="#fff" stroke-opacity=".55" stroke-width=".6"/><path d="M157.5,645.5L130.61,640.76A27.3,27.3 0 1 0 184.80,645.50Z" fill="#0000cd" stroke="#fff" stroke-opacity=".55" stroke-width=".6"/><circle cx="157.5" cy="645.5" r="27.3" fill="none" stroke="#fff" stroke-opacity=".65" stroke-width=".8"/>
<path d="M345.5,604.25L368.80,604.25A23.3,23.3 0 0 0 342.42,581.15Z" fill="#e8000e" stroke="#fff" stroke-opacity=".55" stroke-width=".6"/><path d="M345.5,604.25L342.42,581.15A23.3,23.3 0 0 0 323.75,595.90Z" fill="#ffd700" stroke="#fff" stroke-opacity=".55" stroke-width=".6"/><path d="M345.5,604.25L323.75,595.90A23.3,23.3 0 0 0 345.50,627.55Z" fill="#7fbf64" stroke="#fff" stroke-opacity=".55" stroke-width=".6"/><path d="M345.5,604.25L345.50,627.55A23.3,23.3 0 0 0 368.80,604.25Z" fill="#0000cd" stroke="#fff" stroke-opacity=".55" stroke-width=".6"/><circle cx="345.5" cy="604.25" r="23.3" fill="none" stroke="#fff" stroke-opacity=".65" stroke-width=".8"/>
<path d="M223.7,155.8L246.70,155.80A23.0,23.0 0 0 0 243.62,144.30Z" fill="#e8000e" stroke="#fff" stroke-opacity=".55" stroke-width=".6"/><path d="M223.7,155.8L243.62,144.30A23.0,23.0 0 0 0 234.50,135.49Z" fill="#7fbf64" stroke="#fff" stroke-opacity=".55" stroke-width=".6"/><path d="M223.7,155.8L234.50,135.49A23.0,23.0 0 0 0 201.83,148.69Z" fill="#0000cd" stroke="#fff" stroke-opacity=".55" stroke-width=".6"/><path d="M223.7,155.8L201.83,148.69A23.0,23.0 0 1 0 246.70,155.80Z" fill="#006837" stroke="#fff" stroke-opacity=".55" stroke-width=".6"/><circle cx="223.7" cy="155.8" r="23.0" fill="none" stroke="#fff" stroke-opacity=".65" stroke-width=".8"/>
<path d="M355.5,357L378.20,357.00A22.7,22.7 0 1 0 339.17,372.77Z" fill="#7fbf64" stroke="#fff" stroke-opacity=".55" stroke-width=".6"/><path d="M355.5,357L339.17,372.77A22.7,22.7 0 0 0 378.20,357.00Z" fill="#0000cd" stroke="#fff" stroke-opacity=".55" stroke-width=".6"/><circle cx="355.5" cy="357" r="22.7" fill="none" stroke="#fff" stroke-opacity=".65" stroke-width=".8"/>
<path d="M454.75,608.4L476.05,608.40A21.3,21.3 0 0 0 471.98,595.88Z" fill="#ffd700" stroke="#fff" stroke-opacity=".55" stroke-width=".6"/><path d="M454.75,608.4L471.98,595.88A21.3,21.3 0 0 0 441.64,591.62Z" fill="#7fbf64" stroke="#fff" stroke-opacity=".55" stroke-width=".6"/><path d="M454.75,608.4L441.64,591.62A21.3,21.3 0 1 0 476.05,608.40Z" fill="#0000cd" stroke="#fff" stroke-opacity=".55" stroke-width=".6"/><circle cx="454.75" cy="608.4" r="21.3" fill="none" stroke="#fff" stroke-opacity=".65" stroke-width=".8"/>
<circle cx="235" cy="698.75" r="20.3" fill="#0000cd" stroke="#fff" stroke-opacity=".65" stroke-width=".8"/>
<path d="M288.5,386.8L306.40,386.80A17.900000000000002,17.900000000000002 0 0 0 295.21,370.20Z" fill="#ffd700" stroke="#fff" stroke-opacity=".55" stroke-width=".6"/><path d="M288.5,386.8L295.21,370.20A17.900000000000002,17.900000000000002 0 1 0 306.40,386.80Z" fill="#0000cd" stroke="#fff" stroke-opacity=".55" stroke-width=".6"/><circle cx="288.5" cy="386.8" r="17.900000000000002" fill="none" stroke="#fff" stroke-opacity=".65" stroke-width=".8"/>
<path d="M293.1,344.7L310.00,344.70A16.900000000000002,16.900000000000002 0 0 0 293.10,327.80Z" fill="#7fbf64" stroke="#fff" stroke-opacity=".55" stroke-width=".6"/><path d="M293.1,344.7L293.10,327.80A16.900000000000002,16.900000000000002 0 1 0 310.00,344.70Z" fill="#0000cd" stroke="#fff" stroke-opacity=".55" stroke-width=".6"/><circle cx="293.1" cy="344.7" r="16.900000000000002" fill="none" stroke="#fff" stroke-opacity=".65" stroke-width=".8"/>
<circle cx="265.75" cy="718.75" r="16.3" fill="#e8000e" stroke="#fff" stroke-opacity=".65" stroke-width=".8"/>
<circle cx="109.5" cy="437" r="16.05" fill="#0000cd" stroke="#fff" stroke-opacity=".65" stroke-width=".8"/>
<circle cx="216.5" cy="327.5" r="15.8" fill="#ff8c00" stroke="#fff" stroke-opacity=".65" stroke-width=".8"/>
<path d="M310.75,650L326.55,650.00A15.8,15.8 0 0 0 321.92,638.83Z" fill="#7fbf64" stroke="#fff" stroke-opacity=".55" stroke-width=".6"/><path d="M310.75,650L321.92,638.83A15.8,15.8 0 1 0 326.55,650.00Z" fill="#0000cd" stroke="#fff" stroke-opacity=".55" stroke-width=".6"/><circle cx="310.75" cy="650" r="15.8" fill="none" stroke="#fff" stroke-opacity=".65" stroke-width=".8"/>
<path d="M209.5,425.75L225.03,424.94A15.55,15.55 0 1 0 194.01,427.11Z" fill="#e8000e" stroke="#fff" stroke-opacity=".55" stroke-width=".6"/><path d="M209.5,425.75L194.01,427.11A15.55,15.55 0 0 0 225.03,424.94Z" fill="#ffd700" stroke="#fff" stroke-opacity=".55" stroke-width=".6"/><circle cx="209.5" cy="425.75" r="15.55" fill="none" stroke="#fff" stroke-opacity=".65" stroke-width=".8"/>
<circle cx="429.3" cy="374.2" r="15.100000000000001" fill="#ff8c00" stroke="#fff" stroke-opacity=".65" stroke-width=".8"/>
<path d="M401.6,669.5L416.34,668.21A14.8,14.8 0 0 0 397.77,655.20Z" fill="#e8000e" stroke="#fff" stroke-opacity=".55" stroke-width=".6"/><path d="M401.6,669.5L397.77,655.20A14.8,14.8 0 0 0 386.94,671.56Z" fill="#ffd700" stroke="#fff" stroke-opacity=".55" stroke-width=".6"/><path d="M401.6,669.5L386.94,671.56A14.8,14.8 0 0 0 416.34,668.21Z" fill="#0000cd" stroke="#fff" stroke-opacity=".55" stroke-width=".6"/><circle cx="401.6" cy="669.5" r="14.8" fill="none" stroke="#fff" stroke-opacity=".65" stroke-width=".8"/>
<circle cx="361.25" cy="238" r="14.3" fill="#ffd700" stroke="#fff" stroke-opacity=".65" stroke-width=".8"/>
<circle cx="360" cy="295" r="14.3" fill="#006837" stroke="#fff" stroke-opacity=".65" stroke-width=".8"/>
<circle cx="224.5" cy="695.75" r="14.3" fill="#ffd700" stroke="#fff" stroke-opacity=".65" stroke-width=".8"/>
<circle cx="435.4" cy="368.6" r="14.0" fill="#0000cd" stroke="#fff" stroke-opacity=".65" stroke-width=".8"/>
<circle cx="263" cy="307.75" r="13.8" fill="#ffd700" stroke="#fff" stroke-opacity=".65" stroke-width=".8"/>
<circle cx="66.75" cy="351.75" r="13.8" fill="#0000cd" stroke="#fff" stroke-opacity=".65" stroke-width=".8"/>
<circle cx="210.5" cy="159.6" r="13.200000000000001" fill="#006837" stroke="#fff" stroke-opacity=".65" stroke-width=".8"/>
<circle cx="281.25" cy="245.25" r="12.8" fill="#ffd700" stroke="#fff" stroke-opacity=".65" stroke-width=".8"/>
<path d="M523,393.75L535.80,393.75A12.8,12.8 0 0 0 510.20,393.75Z" fill="#e8000e" stroke="#fff" stroke-opacity=".55" stroke-width=".6"/><path d="M523,393.75L510.20,393.75A12.8,12.8 0 0 0 535.80,393.75Z" fill="#7fbf64" stroke="#fff" stroke-opacity=".55" stroke-width=".6"/><circle cx="523" cy="393.75" r="12.8" fill="none" stroke="#fff" stroke-opacity=".65" stroke-width=".8"/>
<circle cx="503.25" cy="415.5" r="12.8" fill="#a800a8" stroke="#fff" stroke-opacity=".65" stroke-width=".8"/>
<circle cx="233.75" cy="673.75" r="12.8" fill="#0000cd" stroke="#fff" stroke-opacity=".65" stroke-width=".8"/>
<circle cx="346.25" cy="284.5" r="12.3" fill="#0000cd" stroke="#fff" stroke-opacity=".65" stroke-width=".8"/>
<path d="M397,584L409.30,584.00A12.3,12.3 0 0 0 406.28,575.93Z" fill="#e8000e" stroke="#fff" stroke-opacity=".55" stroke-width=".6"/><path d="M397,584L406.28,575.93A12.3,12.3 0 1 0 409.30,584.00Z" fill="#0000cd" stroke="#fff" stroke-opacity=".55" stroke-width=".6"/><circle cx="397" cy="584" r="12.3" fill="none" stroke="#fff" stroke-opacity=".65" stroke-width=".8"/>
<path d="M353,703.4L364.70,703.40A11.700000000000001,11.700000000000001 0 0 0 342.87,697.55Z" fill="#e8000e" stroke="#fff" stroke-opacity=".55" stroke-width=".6"/><path d="M353,703.4L342.87,697.55A11.700000000000001,11.700000000000001 0 1 0 364.70,703.40Z" fill="#0000cd" stroke="#fff" stroke-opacity=".55" stroke-width=".6"/><circle cx="353" cy="703.4" r="11.700000000000001" fill="none" stroke="#fff" stroke-opacity=".65" stroke-width=".8"/>
<circle cx="314.5" cy="410.5" r="11.55" fill="#ff8c00" stroke="#fff" stroke-opacity=".65" stroke-width=".8"/>
<circle cx="189.5" cy="250" r="11.3" fill="#0000cd" stroke="#fff" stroke-opacity=".65" stroke-width=".8"/>
<circle cx="365" cy="281.75" r="11.3" fill="#7fbf64" stroke="#fff" stroke-opacity=".65" stroke-width=".8"/>
<path d="M420,753.75L413.50,762.69A11.05,11.05 0 0 0 431.05,753.75Z" fill="#0000cd" stroke="#fff" stroke-opacity=".55" stroke-width=".6"/><path d="M420,753.75L431.05,753.75A11.05,11.05 0 1 0 413.50,762.69Z" fill="#7fbf64" stroke="#fff" stroke-opacity=".55" stroke-width=".6"/><circle cx="420" cy="753.75" r="11.05" fill="none" stroke="#fff" stroke-opacity=".65" stroke-width=".8"/>
<circle cx="388.75" cy="365" r="10.8" fill="#7fbf64" stroke="#fff" stroke-opacity=".65" stroke-width=".8"/>
<circle cx="518.25" cy="404.25" r="10.8" fill="#0000cd" stroke="#fff" stroke-opacity=".65" stroke-width=".8"/>
<circle cx="390.5" cy="778.75" r="10.8" fill="#a800a8" stroke="#fff" stroke-opacity=".65" stroke-width=".8"/>
<circle cx="372" cy="265" r="10.3" fill="#0000cd" stroke="#fff" stroke-opacity=".65" stroke-width=".8"/>
<circle cx="313.75" cy="275.5" r="9.8" fill="#0000cd" stroke="#fff" stroke-opacity=".65" stroke-width=".8"/>
<circle cx="558.25" cy="448" r="9.8" fill="#7fbf64" stroke="#fff" stroke-opacity=".65" stroke-width=".8"/>
<circle cx="368" cy="254.25" r="9.3" fill="#0000cd" stroke="#fff" stroke-opacity=".65" stroke-width=".8"/>
<circle cx="426.25" cy="621.9" r="8.600000000000001" fill="#0000cd" stroke="#fff" stroke-opacity=".65" stroke-width=".8"/>
<circle cx="482.4" cy="655.7" r="8.5" fill="#0000cd" stroke="#fff" stroke-opacity=".65" stroke-width=".8"/>
<circle cx="328.75" cy="497" r="7.8" fill="#7fbf64" stroke="#fff" stroke-opacity=".65" stroke-width=".8"/>
<path d="M546.9,503.2L553.70,503.20A6.8,6.8 0 0 0 546.90,496.40Z" fill="#e8000e" stroke="#fff" stroke-opacity=".55" stroke-width=".6"/><path d="M546.9,503.2L546.90,496.40A6.8,6.8 0 0 0 542.71,497.84Z" fill="#ffd700" stroke="#fff" stroke-opacity=".55" stroke-width=".6"/><path d="M546.9,503.2L542.71,497.84A6.8,6.8 0 1 0 553.70,503.20Z" fill="#7fbf64" stroke="#fff" stroke-opacity=".55" stroke-width=".6"/><circle cx="546.9" cy="503.2" r="6.8" fill="none" stroke="#fff" stroke-opacity=".65" stroke-width=".8"/>
<circle cx="415.4" cy="570" r="5.8999999999999995" fill="#e8000e" stroke="#fff" stroke-opacity=".65" stroke-width=".8"/>
<circle cx="190.75" cy="243.75" r="5.8" fill="#7fbf64" stroke="#fff" stroke-opacity=".65" stroke-width=".8"/>
<circle cx="250.5" cy="324.25" r="5.8" fill="#ffd700" stroke="#fff" stroke-opacity=".65" stroke-width=".8"/>
<circle cx="519.5" cy="525.5" r="5.3" fill="#e8000e" stroke="#fff" stroke-opacity=".65" stroke-width=".8"/>
<circle cx="70" cy="251" r="4.05" fill="#ffd700" stroke="#fff" stroke-opacity=".65" stroke-width=".8"/>
<circle cx="518.25" cy="480.5" r="4.05" fill="#e8000e" stroke="#fff" stroke-opacity=".65" stroke-width=".8"/>
<circle cx="295.5" cy="563.9" r="4.0" fill="#0000cd" stroke="#fff" stroke-opacity=".65" stroke-width=".8"/>
<circle cx="257.3" cy="576.6" r="3.8" fill="#0000cd" stroke="#fff" stroke-opacity=".65" stroke-width=".8"/>
<circle cx="125.75" cy="489.25" r="3.3" fill="#0000cd" stroke="#fff" stroke-opacity=".65" stroke-width=".8"/>
<circle cx="90" cy="221" r="2.8" fill="#ffd700" stroke="#fff" stroke-opacity=".65" stroke-width=".8"/>
<circle cx="208.75" cy="514.25" r="2.8" fill="#0000cd" stroke="#fff" stroke-opacity=".65" stroke-width=".8"/>
<circle cx="373.25" cy="598.25" r="2.8" fill="#ffd700" stroke="#fff" stroke-opacity=".65" stroke-width=".8"/>
</g>
<g font-size="11.1" fill="#1a1a1a" stroke="#1a1a1a" stroke-width=".18">
<text x="193.7" y="168" text-anchor="end">Saint-Pol-sur-Mer</text>
<text x="249.3" y="161.7" text-anchor="start">Dunkerque</text>
<text x="70.5" y="216" text-anchor="start">Marquise</text>
<text x="43.75" y="244.5" text-anchor="start">Boulogne-sur-Mer</text>
<text x="170.5" y="235" text-anchor="start">Saint-Omer</text>
<text x="151" y="270.5" text-anchor="start">Longuenesse</text>
<text x="266" y="230" text-anchor="start">Bailleul</text>
<text x="242.5" y="278.75" text-anchor="start">Armentières</text>
<text x="379.5" y="241" text-anchor="start">Halluin</text>
<text x="378.2" y="254.3" text-anchor="start">Tourcoing</text>
<text x="382.8" y="267.5" text-anchor="start">Roubaix</text>
<text x="378.2" y="285" text-anchor="start">Villeneuve d&#39;Ascq</text>
<text x="376.25" y="302" text-anchor="start">Lesquin</text>
<text x="337" y="270" text-anchor="start">Lille</text>
<text x="198.75" y="294" text-anchor="start">Fouquières-lès-Béthune</text>
<text x="197.5" y="332" text-anchor="end">Nedonchel</text>
<text x="259.5" y="328" text-anchor="start">Bruay-la-Buissière</text>
<text x="245.75" y="348" text-anchor="start">Lievin</text>
<text x="241.25" y="390" text-anchor="start">Arras</text>
<text x="382" y="352.5" text-anchor="start">Somain</text>
<text x="340.75" y="387.5" text-anchor="start">Douai</text>
<text x="449.2" y="364.5" text-anchor="start">Valenciennes</text>
<text x="390.5" y="398.75" text-anchor="start">Trith-Saint-Leger</text>
<text x="402.9" y="418.75" text-anchor="start">Aulnoye-Aymerie</text>
<text x="340" y="431.25" text-anchor="end">Croisilles</text>
<text x="537.3" y="393.75" text-anchor="start">Louvroil</text>
<text x="530.6" y="413.25" text-anchor="start">Hautmont</text>
<text x="539.3" y="435.75" text-anchor="start">Trelon</text>
<text x="35.6" y="375" text-anchor="start">Berck-sur-Mer</text>
<text x="89.25" y="462.5" text-anchor="start">Abbeville</text>
<text x="106.25" y="502.5" text-anchor="start">Airaines</text>
<text x="190.75" y="451.25" text-anchor="start">Doullens</text>
<text x="215" y="517.5" text-anchor="start">Longueau</text>
<text x="179.5" y="541.25" text-anchor="start">Amiens</text>
<text x="308.5" y="514.4" text-anchor="start">Peronne</text>
<text x="492.5" y="494.5" text-anchor="start">La Capelle</text>
<text x="530.75" y="520.75" text-anchor="start">Hirson</text>
<text x="502.5" y="540" text-anchor="start">Vervins</text>
<text x="282.9" y="558.6" text-anchor="start">Roye</text>
<text x="233" y="590" text-anchor="start">Montdidier</text>
<text x="135.5" y="681.25" text-anchor="start">Beauvais</text>
<text x="212" y="659.5" text-anchor="start">Liancourt</text>
<text x="285" y="675" text-anchor="start">Compiegne</text>
<text x="330.5" y="636.25" text-anchor="start">Noyon</text>
<text x="363.8" y="570.9" text-anchor="start">Tergnier</text>
<text x="406.3" y="562.3" text-anchor="start">La Fère</text>
<text x="374.2" y="609.9" text-anchor="start">Chauny</text>
<text x="396.25" y="641.25" text-anchor="start">Pinon / Anizy</text>
<text x="480.75" y="612.5" text-anchor="start">Laon</text>
<text x="493" y="658.75" text-anchor="start">Merval</text>
<text x="380.7" y="693.8" text-anchor="start">Soissons</text>
<text x="156.25" y="702.5" text-anchor="start">Montataire</text>
<text x="222.5" y="728.75" text-anchor="start">Creil</text>
<text x="252.5" y="743.75" text-anchor="start">Senlis</text>
<text x="317.6" y="724.5" text-anchor="start">Villers-Cotteret</text>
<text x="407" y="774.6" text-anchor="start">Essomes</text>
<text x="372" y="797.5" text-anchor="start">Nogent l&#39;Artaud</text>
</g>
<text x="399.5" y="75.5" font-size="12.6" fill="#111">Capacité installée</text>
<text x="523" y="74.6" font-size="12.6" fill="#111">Catégorie</text>
<circle cx="427.9" cy="119.9" r="31.1" fill="#d4d4d4" stroke="#c6c6c6" stroke-width=".7"/>
<circle cx="427.9" cy="181.4" r="22" fill="#d4d4d4" stroke="#c6c6c6" stroke-width=".7"/>
<circle cx="427.9" cy="221.75" r="10.1" fill="#d4d4d4" stroke="#c6c6c6" stroke-width=".7"/>
<text x="469.8" y="122.6" font-size="10.4" textLength="16.1" lengthAdjust="spacingAndGlyphs" fill="#151515">500</text>
<text x="469.8" y="184.3" font-size="10.4" textLength="16.1" lengthAdjust="spacingAndGlyphs" fill="#151515">250</text>
<text x="469.8" y="225" font-size="10.4" textLength="10.7" lengthAdjust="spacingAndGlyphs" fill="#151515">50</text>
<path d="M528.1,95.5L535.4,95.5A7.3,7.3 0 1 0 528.1,102.8Z" fill="#e8000e"/>
<text x="546.7" y="98.3" font-size="10.2" fill="#151515">ATSA</text>
<path d="M528.1,119.53L535.4,119.53A7.3,7.3 0 1 0 528.1,126.83Z" fill="#ffd700"/>
<text x="546.7" y="122.3" font-size="10.2" fill="#151515">HUDA</text>
<path d="M528.1,143.56L535.4,143.56A7.3,7.3 0 1 0 528.1,150.86Z" fill="#7fbf64"/>
<text x="546.7" y="146.4" font-size="10.2" fill="#151515">CAO</text>
<path d="M528.1,167.59L535.4,167.59A7.3,7.3 0 1 0 528.1,174.89000000000001Z" fill="#0000cd"/>
<text x="546.7" y="170.4" font-size="10.2" fill="#151515">CADA</text>
<path d="M528.1,191.62L535.4,191.62A7.3,7.3 0 1 0 528.1,198.92000000000002Z" fill="#006837"/>
<text x="546.7" y="194.4" font-size="10.2" fill="#151515">PRADHA</text>
<path d="M528.1,215.65L535.4,215.65A7.3,7.3 0 1 0 528.1,222.95000000000002Z" fill="#ff8c00"/>
<text x="546.7" y="218.5" font-size="10.2" fill="#151515">CAES</text>
<path d="M528.1,239.68L535.4,239.68A7.3,7.3 0 1 0 528.1,246.98000000000002Z" fill="#a800a8"/>
<text x="546.7" y="242.5" font-size="10.2" fill="#151515">DPAR</text>
<text x="226.5" y="44.4" font-size="17.45" font-weight="bold" fill="#000">Places d&#39;hébergement</text>
<text x="9.2" y="830.8" font-size="9.58" fill="#1a1a1a" stroke="#1a1a1a" stroke-width=".15">DRJSCS Hauts-de-France - Pôle études, observations et mission d&#39;appui / Siilab - Février 2019</text>
<text x="9.2" y="841.6" font-size="9.58" fill="#1a1a1a" stroke="#1a1a1a" stroke-width=".15">Données SGAR Hauts-de-France - Février 2019</text>

<g font-family="Liberation Serif,serif">
<rect x="12.5" y="15.4" width="43.2" height="53.9" fill="#fff" stroke="#ababab" stroke-width=".9"/>
<line x1="12.5" y1="42.9" x2="55.7" y2="42.9" stroke="#ababab" stroke-width=".9"/>
<rect x="18.5" y="20.2" width="13" height="10" fill="#21409a"/>
<rect x="38.4" y="20.2" width="10" height="10" fill="#e2131d"/>
<path d="M31.5,20.1c-1.3,1.2 -2.2,2.6 -2,4.2c.2,1.3 1.1,1.9 .9,3.1c-.3,1.1 -1.6,1.8 -3.6,2.9h4.8z" fill="#fff"/>
<path d="M25.2,27.6l3.6,.9l-.8,1.8h-3.4z" fill="#fff" opacity=".85"/>
<path d="M38.5,27c-.5,1.5 -1.2,2.6 -2.5,3.2h2.5z" fill="#e2131d"/>
<text x="18.6" y="33.5" font-size="2.4" textLength="29.8" lengthAdjust="spacingAndGlyphs" fill="#777" font-style="italic">Liberté • Égalité • Fraternité</text>
<text x="18.5" y="37.4" font-size="3" textLength="30" lengthAdjust="spacingAndGlyphs" fill="#3a3a3a">RÉPUBLIQUE FRANÇAISE</text>
<text x="27" y="52.6" font-size="3.7" textLength="13" lengthAdjust="spacingAndGlyphs" fill="#3a3a3a">PRÉFET</text>
<text x="21" y="56.9" font-size="3.7" textLength="25" lengthAdjust="spacingAndGlyphs" fill="#3a3a3a">DE LA RÉGION</text>
<text x="17.1" y="61.2" font-size="3.7" textLength="33" lengthAdjust="spacingAndGlyphs" fill="#3a3a3a">HAUTS-DE-FRANCE</text>
</g>
<g>
<text transform="translate(66.3,40.7) scale(1.07,1)" x="0" y="0" font-size="14.4" textLength="64.8" lengthAdjust="spacing" fill="#4c4c4c" stroke="#fff" stroke-width=".12">DRJSCS</text>
<text x="64.3" y="52.2" font-size="4.05" textLength="72.6" lengthAdjust="spacingAndGlyphs" fill="#444" stroke="#444" stroke-width=".06"><tspan font-weight="bold">D</tspan>irection <tspan font-weight="bold">R</tspan>égionale de la <tspan font-weight="bold">J</tspan>eunesse,</text>
<text x="63.2" y="57" font-size="4.05" textLength="76.3" lengthAdjust="spacingAndGlyphs" fill="#444" stroke="#444" stroke-width=".06">des <tspan font-weight="bold">S</tspan>ports et de la <tspan font-weight="bold">C</tspan>ohésion <tspan font-weight="bold">S</tspan>ociale</text>
</g>
<g>
<defs><linearGradient id="sg" x1="0" x2="1" y1="0" y2="0"><stop offset="0" stop-color="#66747f"/><stop offset=".4" stop-color="#a3adb2"/><stop offset=".75" stop-color="#dcdccf"/><stop offset="1" stop-color="#f3edcc"/></linearGradient></defs>
<path d="M159.6,60.2A18.7,18.7 0 1 1 187.3,50" fill="none" stroke="url(#sg)" stroke-width="1.25"/>
<circle cx="172.5" cy="24.2" r="2.5" fill="#111"/>
<circle cx="170.4" cy="23.6" r="1.7" fill="#fff"/>
<circle cx="170" cy="23.7" r=".8" fill="#fff" stroke="#999" stroke-width=".3"/>
<g fill="#45454b">
<text x="158.1" y="42.3" font-size="17.4" textLength="17.6" lengthAdjust="spacingAndGlyphs">SII</text>
<text x="157.6" y="53.7" font-size="13.4" textLength="7" lengthAdjust="spacingAndGlyphs">L</text>
<text x="175.6" y="53.7" font-size="13.4" textLength="7.4" lengthAdjust="spacingAndGlyphs">B</text>
</g>
<line x1="161.2" y1="63.7" x2="172.9" y2="43.8" stroke="#45454b" stroke-width="1.15"/>
<line x1="172.5" y1="44.2" x2="175" y2="53.7" stroke="#45454b" stroke-width="1.3"/>
<line x1="168.7" y1="50.4" x2="174" y2="50.4" stroke="#45454b" stroke-width="1.1"/>
<line x1="168" y1="57" x2="178.4" y2="57" stroke="#b0b0b0" stroke-width=".7"/>
<line x1="168" y1="59.1" x2="188.9" y2="59.1" stroke="#b0b0b0" stroke-width=".7"/>
</g>

</g>
</svg>
</body></html>
